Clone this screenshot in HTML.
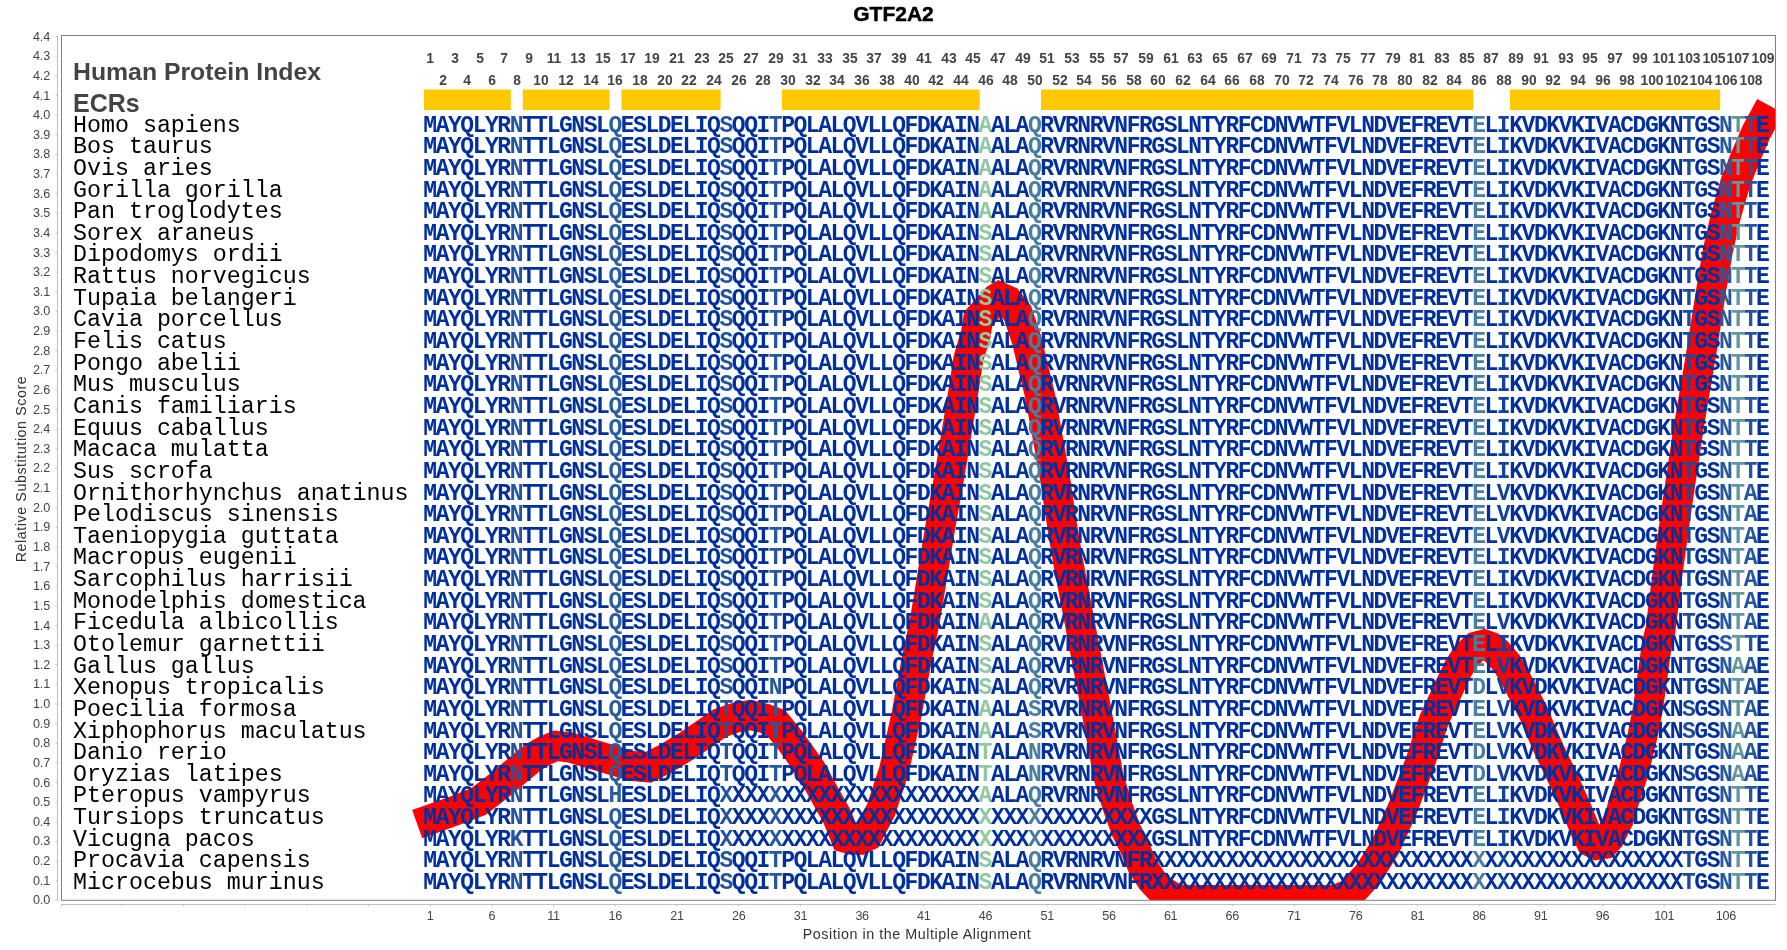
<!DOCTYPE html>
<html><head><meta charset="utf-8"><title>GTF2A2</title>
<style>
html,body{margin:0;padding:0;background:#fff;}
body{width:1787px;height:950px;overflow:hidden;position:relative;font-family:"Liberation Sans",sans-serif;}
#c{position:absolute;left:0;top:0;width:1787px;height:950px;overflow:hidden;will-change:transform;}
svg{position:absolute;left:0;top:0;}
.sp{position:absolute;left:73px;font-family:"Liberation Mono",monospace;font-size:23.3px;line-height:24px;height:24px;white-space:pre;color:#000;}
.col{position:absolute;top:115.63px;width:30px;margin-left:-15px;text-align:center;font-family:"Liberation Mono",monospace;font-weight:bold;font-size:23px;line-height:21.64px;white-space:pre;color:#0030a0;}
.yt{position:absolute;left:0;width:50.2px;text-align:right;font-size:12.6px;line-height:14px;height:14px;color:#454545;letter-spacing:-0.1px;}
.xt{position:absolute;top:908.5px;width:40px;margin-left:-20px;text-align:center;font-size:12.6px;line-height:14px;color:#454545;letter-spacing:-0.3px;}
.num{position:absolute;width:40px;margin-left:-20px;text-align:center;font-weight:bold;font-size:14.6px;line-height:14px;color:#444;transform:scaleX(0.95);}
.hd{position:absolute;left:73px;font-weight:bold;color:#444;white-space:pre;}
</style></head><body><div id="c">
<svg width="1787" height="950" viewBox="0 0 1787 950">
<defs><clipPath id="cp"><rect x="61.5" y="35.5" width="1714.0" height="864.8"/></clipPath></defs>
<rect x="424.0" y="89.5" width="86.8" height="20.5" fill="#ffc800"/>
<rect x="522.8" y="89.5" width="86.8" height="20.5" fill="#ffc800"/>
<rect x="621.5" y="89.5" width="99.1" height="20.5" fill="#ffc800"/>
<rect x="781.9" y="89.5" width="197.8" height="20.5" fill="#ffc800"/>
<rect x="1041.0" y="89.5" width="432.3" height="20.5" fill="#ffc800"/>
<rect x="1510.0" y="89.5" width="210.2" height="20.5" fill="#ffc800"/>
<g clip-path="url(#cp)"><path d="M417.2,824.2 L458.0,809.5 L478.5,801.5 L500.0,784.7 L516.0,771.5 L528.0,761.4 L537.0,755.0 L545.0,750.5 L556.0,745.8 L570.0,747.5 L600.0,756.5 L632.0,766.0 L648.0,767.5 L665.0,759.0 L689.0,744.5 L720.0,723.0 L736.0,717.5 L750.0,715.0 L765.0,718.5 L776.0,722.8 L790.0,740.0 L811.0,769.5 L822.0,789.7 L837.0,816.5 L845.6,837.9 L852.0,839.7 L860.2,839.7 L867.3,836.2 L881.0,810.0 L893.9,770.5 L906.7,713.7 L917.2,656.8 L925.0,619.9 L939.3,533.0 L951.5,463.6 L962.9,394.2 L968.5,358.6 L976.0,333.0 L978.3,318.5 L996.4,298.5 L999.3,296.8 L1008.0,300.6 L1017.6,312.9 L1027.0,341.0 L1034.3,372.4 L1039.7,394.2 L1047.9,438.4 L1055.7,482.7 L1062.3,526.9 L1067.8,560.0 L1081.6,632.6 L1095.4,705.3 L1108.8,777.9 L1118.0,808.0 L1126.0,830.0 L1135.0,848.0 L1142.0,865.0 L1151.5,880.0 L1161.0,890.0 L1172.0,897.0 L1182.0,900.0 L1335.0,900.0 L1350.0,894.0 L1368.0,874.4 L1385.6,846.5 L1403.1,807.5 L1421.0,760.0 L1434.0,720.0 L1446.3,693.7 L1458.5,667.9 L1467.0,655.0 L1476.0,646.5 L1484.0,644.5 L1491.0,647.0 L1497.0,652.0 L1507.0,663.5 L1517.0,681.0 L1533.4,712.8 L1546.8,744.7 L1563.9,780.5 L1577.0,810.0 L1586.0,832.0 L1591.0,842.0 L1597.0,845.0 L1604.0,844.0 L1609.5,838.0 L1619.2,818.3 L1624.3,800.2 L1633.8,771.6 L1642.5,735.8 L1648.3,706.4 L1657.0,643.2 L1660.5,629.6 L1667.4,574.4 L1677.7,500.8 L1688.7,427.2 L1701.2,353.6 L1712.0,285.0 L1718.0,250.0 L1725.7,216.3 L1735.4,182.6 L1745.3,157.4 L1756.3,132.1 L1770.4,106.1" fill="none" stroke="#ff0000" stroke-width="30" stroke-linejoin="miter" stroke-miterlimit="10" stroke-linecap="butt"/></g>
<rect x="61.5" y="35.5" width="1714.0" height="864.8" fill="none" stroke="#808080" stroke-width="1"/>
<g stroke="#c0c0c0" stroke-width="1" fill="none">
<line x1="57.5" y1="35.5" x2="57.5" y2="900.3"/>
<line x1="61.5" y1="904.5" x2="1775.5" y2="904.5"/>
<line x1="55.5" y1="900.3" x2="57.5" y2="900.3"/>
<line x1="55.5" y1="880.7" x2="57.5" y2="880.7"/>
<line x1="55.5" y1="861.0" x2="57.5" y2="861.0"/>
<line x1="55.5" y1="841.4" x2="57.5" y2="841.4"/>
<line x1="55.5" y1="821.8" x2="57.5" y2="821.8"/>
<line x1="55.5" y1="802.1" x2="57.5" y2="802.1"/>
<line x1="55.5" y1="782.5" x2="57.5" y2="782.5"/>
<line x1="55.5" y1="762.9" x2="57.5" y2="762.9"/>
<line x1="55.5" y1="743.3" x2="57.5" y2="743.3"/>
<line x1="55.5" y1="723.6" x2="57.5" y2="723.6"/>
<line x1="55.5" y1="704.0" x2="57.5" y2="704.0"/>
<line x1="55.5" y1="684.4" x2="57.5" y2="684.4"/>
<line x1="55.5" y1="664.7" x2="57.5" y2="664.7"/>
<line x1="55.5" y1="645.1" x2="57.5" y2="645.1"/>
<line x1="55.5" y1="625.5" x2="57.5" y2="625.5"/>
<line x1="55.5" y1="605.8" x2="57.5" y2="605.8"/>
<line x1="55.5" y1="586.2" x2="57.5" y2="586.2"/>
<line x1="55.5" y1="566.6" x2="57.5" y2="566.6"/>
<line x1="55.5" y1="547.0" x2="57.5" y2="547.0"/>
<line x1="55.5" y1="527.3" x2="57.5" y2="527.3"/>
<line x1="55.5" y1="507.7" x2="57.5" y2="507.7"/>
<line x1="55.5" y1="488.1" x2="57.5" y2="488.1"/>
<line x1="55.5" y1="468.4" x2="57.5" y2="468.4"/>
<line x1="55.5" y1="448.8" x2="57.5" y2="448.8"/>
<line x1="55.5" y1="429.2" x2="57.5" y2="429.2"/>
<line x1="55.5" y1="409.5" x2="57.5" y2="409.5"/>
<line x1="55.5" y1="389.9" x2="57.5" y2="389.9"/>
<line x1="55.5" y1="370.3" x2="57.5" y2="370.3"/>
<line x1="55.5" y1="350.7" x2="57.5" y2="350.7"/>
<line x1="55.5" y1="331.0" x2="57.5" y2="331.0"/>
<line x1="55.5" y1="311.4" x2="57.5" y2="311.4"/>
<line x1="55.5" y1="291.8" x2="57.5" y2="291.8"/>
<line x1="55.5" y1="272.1" x2="57.5" y2="272.1"/>
<line x1="55.5" y1="252.5" x2="57.5" y2="252.5"/>
<line x1="55.5" y1="232.9" x2="57.5" y2="232.9"/>
<line x1="55.5" y1="213.2" x2="57.5" y2="213.2"/>
<line x1="55.5" y1="193.6" x2="57.5" y2="193.6"/>
<line x1="55.5" y1="174.0" x2="57.5" y2="174.0"/>
<line x1="55.5" y1="154.4" x2="57.5" y2="154.4"/>
<line x1="55.5" y1="134.7" x2="57.5" y2="134.7"/>
<line x1="55.5" y1="115.1" x2="57.5" y2="115.1"/>
<line x1="55.5" y1="95.5" x2="57.5" y2="95.5"/>
<line x1="55.5" y1="75.8" x2="57.5" y2="75.8"/>
<line x1="55.5" y1="56.2" x2="57.5" y2="56.2"/>
<line x1="55.5" y1="36.6" x2="57.5" y2="36.6"/>
<line x1="61.5" y1="904.5" x2="61.5" y2="906.5"/>
<line x1="121.7" y1="904.5" x2="121.7" y2="906.5"/>
<line x1="183.4" y1="904.5" x2="183.4" y2="906.5"/>
<line x1="245.1" y1="904.5" x2="245.1" y2="906.5"/>
<line x1="306.8" y1="904.5" x2="306.8" y2="906.5"/>
<line x1="368.5" y1="904.5" x2="368.5" y2="906.5"/>
<line x1="430.2" y1="904.5" x2="430.2" y2="906.5"/>
<line x1="491.9" y1="904.5" x2="491.9" y2="906.5"/>
<line x1="553.6" y1="904.5" x2="553.6" y2="906.5"/>
<line x1="615.3" y1="904.5" x2="615.3" y2="906.5"/>
<line x1="677.0" y1="904.5" x2="677.0" y2="906.5"/>
<line x1="738.7" y1="904.5" x2="738.7" y2="906.5"/>
<line x1="800.4" y1="904.5" x2="800.4" y2="906.5"/>
<line x1="862.1" y1="904.5" x2="862.1" y2="906.5"/>
<line x1="923.8" y1="904.5" x2="923.8" y2="906.5"/>
<line x1="985.5" y1="904.5" x2="985.5" y2="906.5"/>
<line x1="1047.2" y1="904.5" x2="1047.2" y2="906.5"/>
<line x1="1108.9" y1="904.5" x2="1108.9" y2="906.5"/>
<line x1="1170.6" y1="904.5" x2="1170.6" y2="906.5"/>
<line x1="1232.3" y1="904.5" x2="1232.3" y2="906.5"/>
<line x1="1294.0" y1="904.5" x2="1294.0" y2="906.5"/>
<line x1="1355.7" y1="904.5" x2="1355.7" y2="906.5"/>
<line x1="1417.4" y1="904.5" x2="1417.4" y2="906.5"/>
<line x1="1479.1" y1="904.5" x2="1479.1" y2="906.5"/>
<line x1="1540.8" y1="904.5" x2="1540.8" y2="906.5"/>
<line x1="1602.5" y1="904.5" x2="1602.5" y2="906.5"/>
<line x1="1664.2" y1="904.5" x2="1664.2" y2="906.5"/>
<line x1="1725.9" y1="904.5" x2="1725.9" y2="906.5"/>
</g>
</svg>
<div style="position:absolute;left:0;top:1px;width:1787px;text-align:center;font-weight:bold;font-size:21px;line-height:26px;color:#000;-webkit-text-stroke:0.45px #000;top:0.5px;">GTF2A2</div>
<div style="position:absolute;left:617px;top:925px;width:600px;text-align:center;font-size:14.3px;line-height:18px;color:#333;letter-spacing:0.55px;">Position in the Multiple Alignment</div>
<div style="position:absolute;left:-129.3px;top:459.5px;width:300px;height:18px;text-align:center;font-size:14.3px;line-height:18px;color:#333;letter-spacing:0.55px;transform:rotate(-90deg);transform-origin:50% 50%;">Relative Substitution Score</div>
<div class="yt" style="top:893.3px">0.0</div><div class="yt" style="top:873.7px">0.1</div><div class="yt" style="top:854.0px">0.2</div><div class="yt" style="top:834.4px">0.3</div><div class="yt" style="top:814.8px">0.4</div><div class="yt" style="top:795.1px">0.5</div><div class="yt" style="top:775.5px">0.6</div><div class="yt" style="top:755.9px">0.7</div><div class="yt" style="top:736.3px">0.8</div><div class="yt" style="top:716.6px">0.9</div><div class="yt" style="top:697.0px">1.0</div><div class="yt" style="top:677.4px">1.1</div><div class="yt" style="top:657.7px">1.2</div><div class="yt" style="top:638.1px">1.3</div><div class="yt" style="top:618.5px">1.4</div><div class="yt" style="top:598.8px">1.5</div><div class="yt" style="top:579.2px">1.6</div><div class="yt" style="top:559.6px">1.7</div><div class="yt" style="top:540.0px">1.8</div><div class="yt" style="top:520.3px">1.9</div><div class="yt" style="top:500.7px">2.0</div><div class="yt" style="top:481.1px">2.1</div><div class="yt" style="top:461.4px">2.2</div><div class="yt" style="top:441.8px">2.3</div><div class="yt" style="top:422.2px">2.4</div><div class="yt" style="top:402.5px">2.5</div><div class="yt" style="top:382.9px">2.6</div><div class="yt" style="top:363.3px">2.7</div><div class="yt" style="top:343.7px">2.8</div><div class="yt" style="top:324.0px">2.9</div><div class="yt" style="top:304.4px">3.0</div><div class="yt" style="top:284.8px">3.1</div><div class="yt" style="top:265.1px">3.2</div><div class="yt" style="top:245.5px">3.3</div><div class="yt" style="top:225.9px">3.4</div><div class="yt" style="top:206.2px">3.5</div><div class="yt" style="top:186.6px">3.6</div><div class="yt" style="top:167.0px">3.7</div><div class="yt" style="top:147.4px">3.8</div><div class="yt" style="top:127.7px">3.9</div><div class="yt" style="top:108.1px">4.0</div><div class="yt" style="top:88.5px">4.1</div><div class="yt" style="top:68.8px">4.2</div><div class="yt" style="top:49.2px">4.3</div><div class="yt" style="top:29.6px">4.4</div>
<div class="xt" style="left:430.2px">1</div><div class="xt" style="left:491.9px">6</div><div class="xt" style="left:553.6px">11</div><div class="xt" style="left:615.3px">16</div><div class="xt" style="left:677.0px">21</div><div class="xt" style="left:738.7px">26</div><div class="xt" style="left:800.4px">31</div><div class="xt" style="left:862.1px">36</div><div class="xt" style="left:923.8px">41</div><div class="xt" style="left:985.5px">46</div><div class="xt" style="left:1047.2px">51</div><div class="xt" style="left:1108.9px">56</div><div class="xt" style="left:1170.6px">61</div><div class="xt" style="left:1232.3px">66</div><div class="xt" style="left:1294.0px">71</div><div class="xt" style="left:1355.7px">76</div><div class="xt" style="left:1417.4px">81</div><div class="xt" style="left:1479.1px">86</div><div class="xt" style="left:1540.8px">91</div><div class="xt" style="left:1602.5px">96</div><div class="xt" style="left:1664.2px">101</div><div class="xt" style="left:1725.9px">106</div>
<div class="hd" style="top:57.5px;font-size:24.8px;line-height:28px;">Human Protein Index</div>
<div class="hd" style="top:88.8px;font-size:25px;line-height:28px;">ECRs</div>
<div class="num" style="left:430.2px;top:51.0px">1</div><div class="num" style="left:442.5px;top:73.2px">2</div><div class="num" style="left:454.9px;top:51.0px">3</div><div class="num" style="left:467.2px;top:73.2px">4</div><div class="num" style="left:479.6px;top:51.0px">5</div><div class="num" style="left:491.9px;top:73.2px">6</div><div class="num" style="left:504.2px;top:51.0px">7</div><div class="num" style="left:516.6px;top:73.2px">8</div><div class="num" style="left:528.9px;top:51.0px">9</div><div class="num" style="left:541.3px;top:73.2px">10</div><div class="num" style="left:553.6px;top:51.0px">11</div><div class="num" style="left:565.9px;top:73.2px">12</div><div class="num" style="left:578.3px;top:51.0px">13</div><div class="num" style="left:590.6px;top:73.2px">14</div><div class="num" style="left:603.0px;top:51.0px">15</div><div class="num" style="left:615.3px;top:73.2px">16</div><div class="num" style="left:627.6px;top:51.0px">17</div><div class="num" style="left:640.0px;top:73.2px">18</div><div class="num" style="left:652.3px;top:51.0px">19</div><div class="num" style="left:664.7px;top:73.2px">20</div><div class="num" style="left:677.0px;top:51.0px">21</div><div class="num" style="left:689.3px;top:73.2px">22</div><div class="num" style="left:701.7px;top:51.0px">23</div><div class="num" style="left:714.0px;top:73.2px">24</div><div class="num" style="left:726.4px;top:51.0px">25</div><div class="num" style="left:738.7px;top:73.2px">26</div><div class="num" style="left:751.0px;top:51.0px">27</div><div class="num" style="left:763.4px;top:73.2px">28</div><div class="num" style="left:775.7px;top:51.0px">29</div><div class="num" style="left:788.1px;top:73.2px">30</div><div class="num" style="left:800.4px;top:51.0px">31</div><div class="num" style="left:812.7px;top:73.2px">32</div><div class="num" style="left:825.1px;top:51.0px">33</div><div class="num" style="left:837.4px;top:73.2px">34</div><div class="num" style="left:849.8px;top:51.0px">35</div><div class="num" style="left:862.1px;top:73.2px">36</div><div class="num" style="left:874.4px;top:51.0px">37</div><div class="num" style="left:886.8px;top:73.2px">38</div><div class="num" style="left:899.1px;top:51.0px">39</div><div class="num" style="left:911.5px;top:73.2px">40</div><div class="num" style="left:923.8px;top:51.0px">41</div><div class="num" style="left:936.1px;top:73.2px">42</div><div class="num" style="left:948.5px;top:51.0px">43</div><div class="num" style="left:960.8px;top:73.2px">44</div><div class="num" style="left:973.2px;top:51.0px">45</div><div class="num" style="left:985.5px;top:73.2px">46</div><div class="num" style="left:997.8px;top:51.0px">47</div><div class="num" style="left:1010.2px;top:73.2px">48</div><div class="num" style="left:1022.5px;top:51.0px">49</div><div class="num" style="left:1034.9px;top:73.2px">50</div><div class="num" style="left:1047.2px;top:51.0px">51</div><div class="num" style="left:1059.5px;top:73.2px">52</div><div class="num" style="left:1071.9px;top:51.0px">53</div><div class="num" style="left:1084.2px;top:73.2px">54</div><div class="num" style="left:1096.6px;top:51.0px">55</div><div class="num" style="left:1108.9px;top:73.2px">56</div><div class="num" style="left:1121.2px;top:51.0px">57</div><div class="num" style="left:1133.6px;top:73.2px">58</div><div class="num" style="left:1145.9px;top:51.0px">59</div><div class="num" style="left:1158.3px;top:73.2px">60</div><div class="num" style="left:1170.6px;top:51.0px">61</div><div class="num" style="left:1182.9px;top:73.2px">62</div><div class="num" style="left:1195.3px;top:51.0px">63</div><div class="num" style="left:1207.6px;top:73.2px">64</div><div class="num" style="left:1220.0px;top:51.0px">65</div><div class="num" style="left:1232.3px;top:73.2px">66</div><div class="num" style="left:1244.6px;top:51.0px">67</div><div class="num" style="left:1257.0px;top:73.2px">68</div><div class="num" style="left:1269.3px;top:51.0px">69</div><div class="num" style="left:1281.7px;top:73.2px">70</div><div class="num" style="left:1294.0px;top:51.0px">71</div><div class="num" style="left:1306.3px;top:73.2px">72</div><div class="num" style="left:1318.7px;top:51.0px">73</div><div class="num" style="left:1331.0px;top:73.2px">74</div><div class="num" style="left:1343.4px;top:51.0px">75</div><div class="num" style="left:1355.7px;top:73.2px">76</div><div class="num" style="left:1368.0px;top:51.0px">77</div><div class="num" style="left:1380.4px;top:73.2px">78</div><div class="num" style="left:1392.7px;top:51.0px">79</div><div class="num" style="left:1405.1px;top:73.2px">80</div><div class="num" style="left:1417.4px;top:51.0px">81</div><div class="num" style="left:1429.7px;top:73.2px">82</div><div class="num" style="left:1442.1px;top:51.0px">83</div><div class="num" style="left:1454.4px;top:73.2px">84</div><div class="num" style="left:1466.8px;top:51.0px">85</div><div class="num" style="left:1479.1px;top:73.2px">86</div><div class="num" style="left:1491.4px;top:51.0px">87</div><div class="num" style="left:1503.8px;top:73.2px">88</div><div class="num" style="left:1516.1px;top:51.0px">89</div><div class="num" style="left:1528.5px;top:73.2px">90</div><div class="num" style="left:1540.8px;top:51.0px">91</div><div class="num" style="left:1553.1px;top:73.2px">92</div><div class="num" style="left:1565.5px;top:51.0px">93</div><div class="num" style="left:1577.8px;top:73.2px">94</div><div class="num" style="left:1590.2px;top:51.0px">95</div><div class="num" style="left:1602.5px;top:73.2px">96</div><div class="num" style="left:1614.8px;top:51.0px">97</div><div class="num" style="left:1627.2px;top:73.2px">98</div><div class="num" style="left:1639.5px;top:51.0px">99</div><div class="num" style="left:1651.9px;top:73.2px">100</div><div class="num" style="left:1664.2px;top:51.0px">101</div><div class="num" style="left:1676.5px;top:73.2px">102</div><div class="num" style="left:1688.9px;top:51.0px">103</div><div class="num" style="left:1701.2px;top:73.2px">104</div><div class="num" style="left:1713.6px;top:51.0px">105</div><div class="num" style="left:1725.9px;top:73.2px">106</div><div class="num" style="left:1738.2px;top:51.0px">107</div><div class="num" style="left:1750.6px;top:73.2px">108</div><div class="num" style="left:1762.9px;top:51.0px">109</div>
<div class="sp" style="top:113.6px">Homo sapiens</div><div class="sp" style="top:135.2px">Bos taurus</div><div class="sp" style="top:156.9px">Ovis aries</div><div class="sp" style="top:178.5px">Gorilla gorilla</div><div class="sp" style="top:200.2px">Pan troglodytes</div><div class="sp" style="top:221.8px">Sorex araneus</div><div class="sp" style="top:243.4px">Dipodomys ordii</div><div class="sp" style="top:265.1px">Rattus norvegicus</div><div class="sp" style="top:286.7px">Tupaia belangeri</div><div class="sp" style="top:308.4px">Cavia porcellus</div><div class="sp" style="top:330.0px">Felis catus</div><div class="sp" style="top:351.6px">Pongo abelii</div><div class="sp" style="top:373.3px">Mus musculus</div><div class="sp" style="top:394.9px">Canis familiaris</div><div class="sp" style="top:416.6px">Equus caballus</div><div class="sp" style="top:438.2px">Macaca mulatta</div><div class="sp" style="top:459.8px">Sus scrofa</div><div class="sp" style="top:481.5px">Ornithorhynchus anatinus</div><div class="sp" style="top:503.1px">Pelodiscus sinensis</div><div class="sp" style="top:524.8px">Taeniopygia guttata</div><div class="sp" style="top:546.4px">Macropus eugenii</div><div class="sp" style="top:568.0px">Sarcophilus harrisii</div><div class="sp" style="top:589.7px">Monodelphis domestica</div><div class="sp" style="top:611.3px">Ficedula albicollis</div><div class="sp" style="top:633.0px">Otolemur garnettii</div><div class="sp" style="top:654.6px">Gallus gallus</div><div class="sp" style="top:676.2px">Xenopus tropicalis</div><div class="sp" style="top:697.9px">Poecilia formosa</div><div class="sp" style="top:719.5px">Xiphophorus maculatus</div><div class="sp" style="top:741.2px">Danio rerio</div><div class="sp" style="top:762.8px">Oryzias latipes</div><div class="sp" style="top:784.4px">Pteropus vampyrus</div><div class="sp" style="top:806.1px">Tursiops truncatus</div><div class="sp" style="top:827.7px">Vicugna pacos</div><div class="sp" style="top:849.4px">Procavia capensis</div><div class="sp" style="top:871.0px">Microcebus murinus</div>
<div class="col" style="left:430.20px">M
M
M
M
M
M
M
M
M
M
M
M
M
M
M
M
M
M
M
M
M
M
M
M
M
M
M
M
M
M
M
M
M
M
M
M</div><div class="col" style="left:442.54px">A
A
A
A
A
A
A
A
A
A
A
A
A
A
A
A
A
A
A
A
A
A
A
A
A
A
A
A
A
A
A
A
A
A
A
A</div><div class="col" style="left:454.88px">Y
Y
Y
Y
Y
Y
Y
Y
Y
Y
Y
Y
Y
Y
Y
Y
Y
Y
Y
Y
Y
Y
Y
Y
Y
Y
Y
Y
Y
Y
Y
Y
Y
Y
Y
Y</div><div class="col" style="left:467.22px">Q
Q
Q
Q
Q
Q
Q
Q
Q
Q
Q
Q
Q
Q
Q
Q
Q
Q
Q
Q
Q
Q
Q
Q
Q
Q
Q
Q
Q
Q
Q
Q
Q
Q
Q
Q</div><div class="col" style="left:479.56px">L
L
L
L
L
L
L
L
L
L
L
L
L
L
L
L
L
L
L
L
L
L
L
L
L
L
L
L
L
L
L
L
L
L
L
L</div><div class="col" style="left:491.90px">Y
Y
Y
Y
Y
Y
Y
Y
Y
Y
Y
Y
Y
Y
Y
Y
Y
Y
Y
Y
Y
Y
Y
Y
Y
Y
Y
Y
Y
Y
Y
Y
Y
Y
Y
Y</div><div class="col" style="left:504.24px">R
R
R
R
R
R
R
R
R
R
R
R
R
R
R
R
R
R
R
R
R
R
R
R
R
R
R
R
R
R
R
R
R
R
R
R</div><div class="col" style="left:516.58px;color:#2354a0">N
N
N
N
N
N
N
N
N
N
N
N
N
N
N
N
N
N
N
N
N
N
N
N
N
N
N
N
N
N
N
N
N
K
N
N</div><div class="col" style="left:528.92px">T
T
T
T
T
T
T
T
T
T
T
T
T
T
T
T
T
T
T
T
T
T
T
T
T
T
T
T
T
T
T
T
T
T
T
T</div><div class="col" style="left:541.26px">T
T
T
T
T
T
T
T
T
T
T
T
T
T
T
T
T
T
T
T
T
T
T
T
T
T
T
T
T
T
T
T
T
T
T
T</div><div class="col" style="left:553.60px">L
L
L
L
L
L
L
L
L
L
L
L
L
L
L
L
L
L
L
L
L
L
L
L
L
L
L
L
L
L
L
L
L
L
L
L</div><div class="col" style="left:565.94px">G
G
G
G
G
G
G
G
G
G
G
G
G
G
G
G
G
G
G
G
G
G
G
G
G
G
G
G
G
G
G
G
G
G
G
G</div><div class="col" style="left:578.28px">N
N
N
N
N
N
N
N
N
N
N
N
N
N
N
N
N
N
N
N
N
N
N
N
N
N
N
N
N
N
N
N
N
N
N
N</div><div class="col" style="left:590.62px">S
S
S
S
S
S
S
S
S
S
S
S
S
S
S
S
S
S
S
S
S
S
S
S
S
S
S
S
S
S
S
S
S
S
S
S</div><div class="col" style="left:602.96px">L
L
L
L
L
L
L
L
L
L
L
L
L
L
L
L
L
L
L
L
L
L
L
L
L
L
L
L
L
L
L
L
L
L
L
L</div><div class="col" style="left:615.30px;color:#2a5ca0">Q
Q
Q
Q
Q
Q
Q
Q
Q
Q
Q
Q
Q
Q
Q
Q
Q
Q
Q
Q
Q
Q
Q
Q
Q
Q
Q
Q
Q
Q
Q
H
Q
Q
Q
Q</div><div class="col" style="left:627.64px">E
E
E
E
E
E
E
E
E
E
E
E
E
E
E
E
E
E
E
E
E
E
E
E
E
E
E
E
E
E
E
E
E
E
E
E</div><div class="col" style="left:639.98px">S
S
S
S
S
S
S
S
S
S
S
S
S
S
S
S
S
S
S
S
S
S
S
S
S
S
S
S
S
S
S
S
S
S
S
S</div><div class="col" style="left:652.32px">L
L
L
L
L
L
L
L
L
L
L
L
L
L
L
L
L
L
L
L
L
L
L
L
L
L
L
L
L
L
L
L
L
L
L
L</div><div class="col" style="left:664.66px">D
D
D
D
D
D
D
D
D
D
D
D
D
D
D
D
D
D
D
D
D
D
D
D
D
D
D
D
D
D
D
D
D
D
D
D</div><div class="col" style="left:677.00px">E
E
E
E
E
E
E
E
E
E
E
E
E
E
E
E
E
E
E
E
E
E
E
E
E
E
E
E
E
E
E
E
E
E
E
E</div><div class="col" style="left:689.34px">L
L
L
L
L
L
L
L
L
L
L
L
L
L
L
L
L
L
L
L
L
L
L
L
L
L
L
L
L
L
L
L
L
L
L
L</div><div class="col" style="left:701.68px">I
I
I
I
I
I
I
I
I
I
I
I
I
I
I
I
I
I
I
I
I
I
I
I
I
I
I
I
I
I
I
I
I
I
I
I</div><div class="col" style="left:714.02px">Q
Q
Q
Q
Q
Q
Q
Q
Q
Q
Q
Q
Q
Q
Q
Q
Q
Q
Q
Q
Q
Q
Q
Q
Q
Q
Q
Q
Q
Q
Q
Q
Q
Q
Q
Q</div><div class="col" style="left:726.36px;color:#2153a0">S
S
S
S
S
S
S
S
S
S
S
S
S
S
S
S
S
S
S
S
S
S
S
S
S
S
S
T
T
T
T
X
X
X
S
S</div><div class="col" style="left:738.70px">Q
Q
Q
Q
Q
Q
Q
Q
Q
Q
Q
Q
Q
Q
Q
Q
Q
Q
Q
Q
Q
Q
Q
Q
Q
Q
Q
Q
Q
Q
Q
X
X
X
Q
Q</div><div class="col" style="left:751.04px">Q
Q
Q
Q
Q
Q
Q
Q
Q
Q
Q
Q
Q
Q
Q
Q
Q
Q
Q
Q
Q
Q
Q
Q
Q
Q
Q
Q
Q
Q
Q
X
X
X
Q
Q</div><div class="col" style="left:763.38px">I
I
I
I
I
I
I
I
I
I
I
I
I
I
I
I
I
I
I
I
I
I
I
I
I
I
I
I
I
I
I
X
X
X
I
I</div><div class="col" style="left:775.72px;color:#2558a0">T
T
T
T
T
T
T
T
T
T
T
T
T
T
T
T
T
T
T
T
T
T
T
T
T
T
N
T
T
T
T
X
X
X
T
T</div><div class="col" style="left:788.06px">P
P
P
P
P
P
P
P
P
P
P
P
P
P
P
P
P
P
P
P
P
P
P
P
P
P
P
P
P
P
P
X
X
X
P
P</div><div class="col" style="left:800.40px">Q
Q
Q
Q
Q
Q
Q
Q
Q
Q
Q
Q
Q
Q
Q
Q
Q
Q
Q
Q
Q
Q
Q
Q
Q
Q
Q
Q
Q
Q
Q
X
X
X
Q
Q</div><div class="col" style="left:812.74px">L
L
L
L
L
L
L
L
L
L
L
L
L
L
L
L
L
L
L
L
L
L
L
L
L
L
L
L
L
L
L
X
X
X
L
L</div><div class="col" style="left:825.08px">A
A
A
A
A
A
A
A
A
A
A
A
A
A
A
A
A
A
A
A
A
A
A
A
A
A
A
A
A
A
A
X
X
X
A
A</div><div class="col" style="left:837.42px">L
L
L
L
L
L
L
L
L
L
L
L
L
L
L
L
L
L
L
L
L
L
L
L
L
L
L
L
L
L
L
X
X
X
L
L</div><div class="col" style="left:849.76px">Q
Q
Q
Q
Q
Q
Q
Q
Q
Q
Q
Q
Q
Q
Q
Q
Q
Q
Q
Q
Q
Q
Q
Q
Q
Q
Q
Q
Q
Q
Q
X
X
X
Q
Q</div><div class="col" style="left:862.10px">V
V
V
V
V
V
V
V
V
V
V
V
V
V
V
V
V
V
V
V
V
V
V
V
V
V
V
V
V
V
V
X
X
X
V
V</div><div class="col" style="left:874.44px">L
L
L
L
L
L
L
L
L
L
L
L
L
L
L
L
L
L
L
L
L
L
L
L
L
L
L
L
L
L
L
X
X
X
L
L</div><div class="col" style="left:886.78px">L
L
L
L
L
L
L
L
L
L
L
L
L
L
L
L
L
L
L
L
L
L
L
L
L
L
L
L
L
L
L
X
X
X
L
L</div><div class="col" style="left:899.12px">Q
Q
Q
Q
Q
Q
Q
Q
Q
Q
Q
Q
Q
Q
Q
Q
Q
Q
Q
Q
Q
Q
Q
Q
Q
Q
Q
Q
Q
Q
Q
X
X
X
Q
Q</div><div class="col" style="left:911.46px">F
F
F
F
F
F
F
F
F
F
F
F
F
F
F
F
F
F
F
F
F
F
F
F
F
F
F
F
F
F
F
X
X
X
F
F</div><div class="col" style="left:923.80px">D
D
D
D
D
D
D
D
D
D
D
D
D
D
D
D
D
D
D
D
D
D
D
D
D
D
D
D
D
D
D
X
X
X
D
D</div><div class="col" style="left:936.14px">K
K
K
K
K
K
K
K
K
K
K
K
K
K
K
K
K
K
K
K
K
K
K
K
K
K
K
K
K
K
K
X
X
X
K
K</div><div class="col" style="left:948.48px">A
A
A
A
A
A
A
A
A
A
A
A
A
A
A
A
A
A
A
A
A
A
A
A
A
A
A
A
A
A
A
X
X
X
A
A</div><div class="col" style="left:960.82px">I
I
I
I
I
I
I
I
I
I
I
I
I
I
I
I
I
I
I
I
I
I
I
I
I
I
I
I
I
I
I
X
X
X
I
I</div><div class="col" style="left:973.16px">N
N
N
N
N
N
N
N
N
N
N
N
N
N
N
N
N
N
N
N
N
N
N
N
N
N
N
N
N
N
N
X
X
X
N
N</div><div class="col" style="left:985.50px;color:#90c8a0">A
A
A
A
A
S
S
S
S
S
S
S
S
S
S
S
S
S
S
S
S
S
S
A
S
S
S
A
A
T
T
A
X
X
S
S</div><div class="col" style="left:997.84px">A
A
A
A
A
A
A
A
A
A
A
A
A
A
A
A
A
A
A
A
A
A
A
A
A
A
A
A
A
A
A
A
X
X
A
A</div><div class="col" style="left:1010.18px">L
L
L
L
L
L
L
L
L
L
L
L
L
L
L
L
L
L
L
L
L
L
L
L
L
L
L
L
L
L
L
L
X
X
L
L</div><div class="col" style="left:1022.52px">A
A
A
A
A
A
A
A
A
A
A
A
A
A
A
A
A
A
A
A
A
A
A
A
A
A
A
A
A
A
A
A
X
X
A
A</div><div class="col" style="left:1034.86px;color:#487ca0">Q
Q
Q
Q
Q
Q
Q
Q
Q
Q
Q
Q
Q
Q
Q
Q
Q
Q
Q
Q
Q
Q
Q
Q
Q
Q
Q
S
S
N
N
Q
X
X
Q
Q</div><div class="col" style="left:1047.20px">R
R
R
R
R
R
R
R
R
R
R
R
R
R
R
R
R
R
R
R
R
R
R
R
R
R
R
R
R
R
R
R
X
X
R
R</div><div class="col" style="left:1059.54px">V
V
V
V
V
V
V
V
V
V
V
V
V
V
V
V
V
V
V
V
V
V
V
V
V
V
V
V
V
V
V
V
X
X
V
V</div><div class="col" style="left:1071.88px">R
R
R
R
R
R
R
R
R
R
R
R
R
R
R
R
R
R
R
R
R
R
R
R
R
R
R
R
R
R
R
R
X
X
R
R</div><div class="col" style="left:1084.22px">N
N
N
N
N
N
N
N
N
N
N
N
N
N
N
N
N
N
N
N
N
N
N
N
N
N
N
N
N
N
N
N
X
X
N
N</div><div class="col" style="left:1096.56px">R
R
R
R
R
R
R
R
R
R
R
R
R
R
R
R
R
R
R
R
R
R
R
R
R
R
R
R
R
R
R
R
X
X
R
R</div><div class="col" style="left:1108.90px">V
V
V
V
V
V
V
V
V
V
V
V
V
V
V
V
V
V
V
V
V
V
V
V
V
V
V
V
V
V
V
V
X
X
V
V</div><div class="col" style="left:1121.24px">N
N
N
N
N
N
N
N
N
N
N
N
N
N
N
N
N
N
N
N
N
N
N
N
N
N
N
N
N
N
N
N
X
X
N
N</div><div class="col" style="left:1133.58px">F
F
F
F
F
F
F
F
F
F
F
F
F
F
F
F
F
F
F
F
F
F
F
F
F
F
F
F
F
F
F
F
X
X
F
F</div><div class="col" style="left:1145.92px">R
R
R
R
R
R
R
R
R
R
R
R
R
R
R
R
R
R
R
R
R
R
R
R
R
R
R
R
R
R
R
R
X
X
R
R</div><div class="col" style="left:1158.26px">G
G
G
G
G
G
G
G
G
G
G
G
G
G
G
G
G
G
G
G
G
G
G
G
G
G
G
G
G
G
G
G
G
G
X
X</div><div class="col" style="left:1170.60px">S
S
S
S
S
S
S
S
S
S
S
S
S
S
S
S
S
S
S
S
S
S
S
S
S
S
S
S
S
S
S
S
S
S
X
X</div><div class="col" style="left:1182.94px">L
L
L
L
L
L
L
L
L
L
L
L
L
L
L
L
L
L
L
L
L
L
L
L
L
L
L
L
L
L
L
L
L
L
X
X</div><div class="col" style="left:1195.28px">N
N
N
N
N
N
N
N
N
N
N
N
N
N
N
N
N
N
N
N
N
N
N
N
N
N
N
N
N
N
N
N
N
N
X
X</div><div class="col" style="left:1207.62px">T
T
T
T
T
T
T
T
T
T
T
T
T
T
T
T
T
T
T
T
T
T
T
T
T
T
T
T
T
T
T
T
T
T
X
X</div><div class="col" style="left:1219.96px">Y
Y
Y
Y
Y
Y
Y
Y
Y
Y
Y
Y
Y
Y
Y
Y
Y
Y
Y
Y
Y
Y
Y
Y
Y
Y
Y
Y
Y
Y
Y
Y
Y
Y
X
X</div><div class="col" style="left:1232.30px">R
R
R
R
R
R
R
R
R
R
R
R
R
R
R
R
R
R
R
R
R
R
R
R
R
R
R
R
R
R
R
R
R
R
X
X</div><div class="col" style="left:1244.64px">F
F
F
F
F
F
F
F
F
F
F
F
F
F
F
F
F
F
F
F
F
F
F
F
F
F
F
F
F
F
F
F
F
F
X
X</div><div class="col" style="left:1256.98px">C
C
C
C
C
C
C
C
C
C
C
C
C
C
C
C
C
C
C
C
C
C
C
C
C
C
C
C
C
C
C
C
C
C
X
X</div><div class="col" style="left:1269.32px">D
D
D
D
D
D
D
D
D
D
D
D
D
D
D
D
D
D
D
D
D
D
D
D
D
D
D
D
D
D
D
D
D
D
X
X</div><div class="col" style="left:1281.66px">N
N
N
N
N
N
N
N
N
N
N
N
N
N
N
N
N
N
N
N
N
N
N
N
N
N
N
N
N
N
N
N
N
N
X
X</div><div class="col" style="left:1294.00px">V
V
V
V
V
V
V
V
V
V
V
V
V
V
V
V
V
V
V
V
V
V
V
V
V
V
V
V
V
V
V
V
V
V
X
X</div><div class="col" style="left:1306.34px">W
W
W
W
W
W
W
W
W
W
W
W
W
W
W
W
W
W
W
W
W
W
W
W
W
W
W
W
W
W
W
W
W
W
X
X</div><div class="col" style="left:1318.68px">T
T
T
T
T
T
T
T
T
T
T
T
T
T
T
T
T
T
T
T
T
T
T
T
T
T
T
T
T
T
T
T
T
T
X
X</div><div class="col" style="left:1331.02px">F
F
F
F
F
F
F
F
F
F
F
F
F
F
F
F
F
F
F
F
F
F
F
F
F
F
F
F
F
F
F
F
F
F
X
X</div><div class="col" style="left:1343.36px">V
V
V
V
V
V
V
V
V
V
V
V
V
V
V
V
V
V
V
V
V
V
V
V
V
V
V
V
V
V
V
V
V
V
X
X</div><div class="col" style="left:1355.70px">L
L
L
L
L
L
L
L
L
L
L
L
L
L
L
L
L
L
L
L
L
L
L
L
L
L
L
L
L
L
L
L
L
L
X
X</div><div class="col" style="left:1368.04px">N
N
N
N
N
N
N
N
N
N
N
N
N
N
N
N
N
N
N
N
N
N
N
N
N
N
N
N
N
N
N
N
N
N
X
X</div><div class="col" style="left:1380.38px">D
D
D
D
D
D
D
D
D
D
D
D
D
D
D
D
D
D
D
D
D
D
D
D
D
D
D
D
D
D
D
D
D
D
X
X</div><div class="col" style="left:1392.72px">V
V
V
V
V
V
V
V
V
V
V
V
V
V
V
V
V
V
V
V
V
V
V
V
V
V
V
V
V
V
V
V
V
V
X
X</div><div class="col" style="left:1405.06px">E
E
E
E
E
E
E
E
E
E
E
E
E
E
E
E
E
E
E
E
E
E
E
E
E
E
E
E
E
E
E
E
E
E
X
X</div><div class="col" style="left:1417.40px">F
F
F
F
F
F
F
F
F
F
F
F
F
F
F
F
F
F
F
F
F
F
F
F
F
F
F
F
F
F
F
F
F
F
X
X</div><div class="col" style="left:1429.74px">R
R
R
R
R
R
R
R
R
R
R
R
R
R
R
R
R
R
R
R
R
R
R
R
R
R
R
R
R
R
R
R
R
R
X
X</div><div class="col" style="left:1442.08px">E
E
E
E
E
E
E
E
E
E
E
E
E
E
E
E
E
E
E
E
E
E
E
E
E
E
E
E
E
E
E
E
E
E
X
X</div><div class="col" style="left:1454.42px">V
V
V
V
V
V
V
V
V
V
V
V
V
V
V
V
V
V
V
V
V
V
V
V
V
V
V
V
V
V
V
V
V
V
X
X</div><div class="col" style="left:1466.76px">T
T
T
T
T
T
T
T
T
T
T
T
T
T
T
T
T
T
T
T
T
T
T
T
T
T
T
T
T
T
T
T
T
T
X
X</div><div class="col" style="left:1479.10px;color:#487ca0">E
E
E
E
E
E
E
E
E
E
E
E
E
E
E
E
E
E
E
E
E
E
E
E
E
E
D
E
E
D
D
E
E
E
X
X</div><div class="col" style="left:1491.44px">L
L
L
L
L
L
L
L
L
L
L
L
L
L
L
L
L
L
L
L
L
L
L
L
L
L
L
L
L
L
L
L
L
L
X
X</div><div class="col" style="left:1503.78px;color:#1142a0">I
I
I
I
I
I
I
I
I
I
I
I
I
I
I
I
I
V
V
V
I
I
I
V
I
V
V
V
V
V
V
I
I
I
X
X</div><div class="col" style="left:1516.12px">K
K
K
K
K
K
K
K
K
K
K
K
K
K
K
K
K
K
K
K
K
K
K
K
K
K
K
K
K
K
K
K
K
K
X
X</div><div class="col" style="left:1528.46px">V
V
V
V
V
V
V
V
V
V
V
V
V
V
V
V
V
V
V
V
V
V
V
V
V
V
V
V
V
V
V
V
V
V
X
X</div><div class="col" style="left:1540.80px">D
D
D
D
D
D
D
D
D
D
D
D
D
D
D
D
D
D
D
D
D
D
D
D
D
D
D
D
D
D
D
D
D
D
X
X</div><div class="col" style="left:1553.14px">K
K
K
K
K
K
K
K
K
K
K
K
K
K
K
K
K
K
K
K
K
K
K
K
K
K
K
K
K
K
K
K
K
K
X
X</div><div class="col" style="left:1565.48px">V
V
V
V
V
V
V
V
V
V
V
V
V
V
V
V
V
V
V
V
V
V
V
V
V
V
V
V
V
V
V
V
V
V
X
X</div><div class="col" style="left:1577.82px">K
K
K
K
K
K
K
K
K
K
K
K
K
K
K
K
K
K
K
K
K
K
K
K
K
K
K
K
K
K
K
K
K
K
X
X</div><div class="col" style="left:1590.16px">I
I
I
I
I
I
I
I
I
I
I
I
I
I
I
I
I
I
I
I
I
I
I
I
I
I
I
I
I
I
I
I
I
I
X
X</div><div class="col" style="left:1602.50px">V
V
V
V
V
V
V
V
V
V
V
V
V
V
V
V
V
V
V
V
V
V
V
V
V
V
V
V
V
V
V
V
V
V
X
X</div><div class="col" style="left:1614.84px">A
A
A
A
A
A
A
A
A
A
A
A
A
A
A
A
A
A
A
A
A
A
A
A
A
A
A
A
A
A
A
A
A
A
X
X</div><div class="col" style="left:1627.18px">C
C
C
C
C
C
C
C
C
C
C
C
C
C
C
C
C
C
C
C
C
C
C
C
C
C
C
C
C
C
C
C
C
C
X
X</div><div class="col" style="left:1639.52px">D
D
D
D
D
D
D
D
D
D
D
D
D
D
D
D
D
D
D
D
D
D
D
D
D
D
D
D
D
D
D
D
D
D
X
X</div><div class="col" style="left:1651.86px">G
G
G
G
G
G
G
G
G
G
G
G
G
G
G
G
G
G
G
G
G
G
G
G
G
G
G
G
G
G
G
G
G
G
X
X</div><div class="col" style="left:1664.20px">K
K
K
K
K
K
K
K
K
K
K
K
K
K
K
K
K
K
K
K
K
K
K
K
K
K
K
K
K
K
K
K
K
K
X
X</div><div class="col" style="left:1676.54px">N
N
N
N
N
N
N
N
N
N
N
N
N
N
N
N
N
N
N
N
N
N
N
N
N
N
N
N
N
N
N
N
N
N
X
X</div><div class="col" style="left:1688.88px;color:#184aa0">T
T
T
T
T
T
T
T
T
T
T
T
T
T
T
T
T
T
T
T
T
T
T
T
T
T
T
S
S
T
S
T
T
T
T
T</div><div class="col" style="left:1701.22px">G
G
G
G
G
G
G
G
G
G
G
G
G
G
G
G
G
G
G
G
G
G
G
G
G
G
G
G
G
G
G
G
G
G
G
G</div><div class="col" style="left:1713.56px">S
S
S
S
S
S
S
S
S
S
S
S
S
S
S
S
S
S
S
S
S
S
S
S
S
S
S
S
S
S
S
S
S
S
S
S</div><div class="col" style="left:1725.90px;color:#2759a0">N
N
N
N
N
N
N
N
N
N
N
N
N
N
N
N
N
N
N
N
N
N
N
N
S
N
N
N
N
N
N
N
N
N
N
N</div><div class="col" style="left:1738.24px;color:#6297a0">T
T
T
T
T
T
T
T
T
T
T
T
T
T
T
T
T
T
T
T
T
T
T
T
T
A
T
T
A
A
A
T
T
T
T
T</div><div class="col" style="left:1750.58px;color:#2456a0">T
T
T
T
T
T
T
T
T
T
T
T
T
T
T
T
T
A
A
A
A
A
A
A
T
A
A
A
A
A
A
T
T
T
T
T</div><div class="col" style="left:1762.92px">E
E
E
E
E
E
E
E
E
E
E
E
E
E
E
E
E
E
E
E
E
E
E
E
E
E
E
E
E
E
E
E
E
E
E
E</div>
</div></body></html>
